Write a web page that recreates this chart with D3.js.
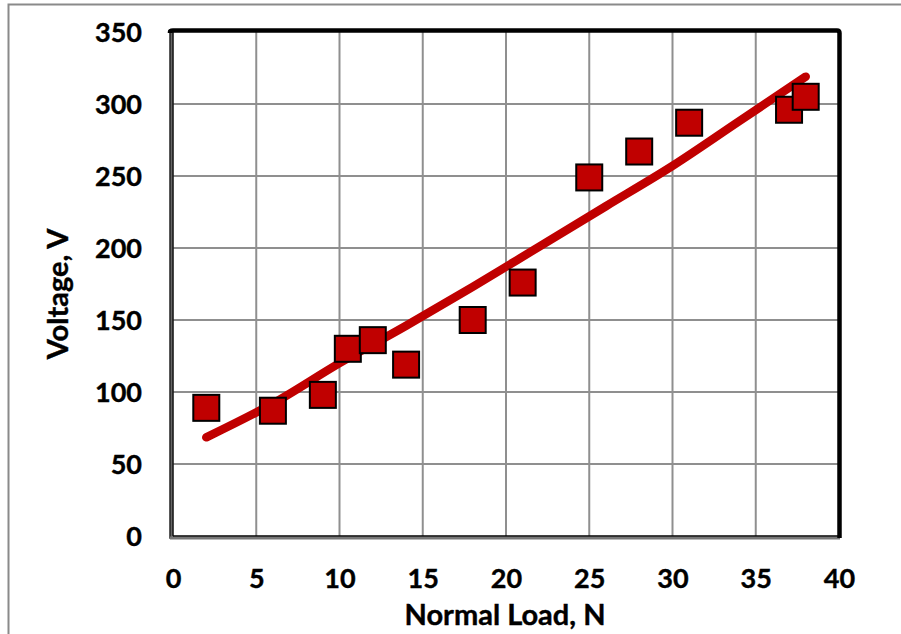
<!DOCTYPE html>
<html>
<head>
<meta charset="utf-8">
<script src="https://cdn.jsdelivr.net/npm/d3@7"></script>
<style>
  html, body { margin: 0; padding: 0; background: #fff; }
  svg { display: block; }
  text { font-family: Lato, "Open Sans", sans-serif; font-weight: 700; fill: #000; }
</style>
</head>
<body>
<svg id="chart" width="901" height="634"></svg>
<script>
// ---- data ----
const loadN    = [2, 6, 9, 10.5, 12, 14, 18, 21, 25, 28, 31, 37, 38];
const voltageV = [89, 87, 98, 130, 136, 119, 150, 176, 249, 267, 287, 296, 305];
// trend line read along its length
const trendX = [2, 6, 10, 14, 18, 22, 26, 30, 34, 38];
const trendY = [68.5, 92, 120, 146, 173, 201, 229, 257, 288, 319];
const xTicks = [0, 5, 10, 15, 20, 25, 30, 35, 40];
const yTicks = [0, 50, 100, 150, 200, 250, 300, 350];
const xTitle = "Normal Load, N";
const yTitle = "Voltage, V";

const svg = d3.select("#chart");
const pL = 173, pR = 839, pT = 32, pB = 536;
const x = d3.scaleLinear().domain([0, 40]).range([pL, pR]);
const y = d3.scaleLinear().domain([0, 350]).range([pB, pT]);

// outer chart border
svg.append("rect").attr("x", 8.5).attr("y", 4.5).attr("width", 1000).attr("height", 1000)
  .attr("fill", "#fff").attr("stroke", "#8a8a8a").attr("stroke-width", 2);

// gridlines
const grid = svg.append("g");
grid.selectAll(".vx").data(xTicks.slice(1, -1)).join("line")
  .attr("x1", d => x(d)).attr("x2", d => x(d)).attr("y1", pT).attr("y2", pB)
  .attr("stroke", "#8f8f8f").attr("stroke-width", 2);
grid.selectAll(".hy").data(yTicks.slice(1, -1)).join("line")
  .attr("y1", d => y(d)).attr("y2", d => y(d)).attr("x1", pL).attr("x2", pR)
  .attr("stroke", "#8f8f8f").attr("stroke-width", 2);

// plot border (3-D style)
svg.append("line").attr("x1", pL - 1.5).attr("x2", pL - 1.5).attr("y1", pT).attr("y2", pB + 2)
  .attr("stroke", "#666").attr("stroke-width", 4);
svg.append("line").attr("x1", pL).attr("x2", pL).attr("y1", pT).attr("y2", pB)
  .attr("stroke", "#000").attr("stroke-width", 1.2);
svg.append("line").attr("x1", pL - 3).attr("x2", pL - 3).attr("y1", pT).attr("y2", pB + 3)
  .attr("stroke", "#000").attr("stroke-width", 1);
svg.append("line").attr("x1", pL - 3).attr("x2", pR + 1).attr("y1", pB + 2).attr("y2", pB + 2)
  .attr("stroke", "#777").attr("stroke-width", 3);
svg.append("line").attr("x1", pL).attr("x2", pR).attr("y1", pB).attr("y2", pB)
  .attr("stroke", "#000").attr("stroke-width", 1.5);
svg.append("path")
  .attr("d", `M${pL - 3},${pT + 1} L${pL - 3},${pT} Q${pL - 3},${pT - 1.5} ${pL},${pT - 1.5} L${pR - 2},${pT - 1.5} Q${pR + 0.5},${pT - 1.5} ${pR + 0.5},${pT + 1} L${pR + 0.5},${pB + 2}`)
  .attr("fill", "none").attr("stroke", "#000").attr("stroke-width", 4.5);

// axes (labels only)
const xAxis = d3.axisBottom(x).tickValues(xTicks).tickSize(0).tickPadding(0);
const gx = svg.append("g").attr("transform", `translate(0,${pB})`).call(xAxis);
gx.select(".domain").remove();
gx.selectAll("text").attr("y", 52).attr("dy", null).style("font-size", "27px")
  .style("font-family", "Lato, sans-serif").style("font-weight", 700).attr("fill", "#000")
  .attr("stroke", "#000").attr("stroke-width", 0.4);

const yAxis = d3.axisLeft(y).tickValues(yTicks).tickSize(0).tickPadding(0);
const gy = svg.append("g").attr("transform", `translate(142,0)`).call(yAxis);
gy.select(".domain").remove();
gy.selectAll("text").attr("x", 0).attr("dy", "0.36em").style("font-size", "27px")
  .style("font-family", "Lato, sans-serif").style("font-weight", 700).attr("fill", "#000")
  .attr("stroke", "#000").attr("stroke-width", 0.4);

// titles
svg.append("text").attr("x", 505).attr("y", 625).attr("text-anchor", "middle")
  .style("font-size", "29px").attr("stroke", "#000").attr("stroke-width", 0.4).text(xTitle);
svg.append("text").attr("transform", "translate(68,294) rotate(-90)").attr("text-anchor", "middle")
  .style("font-size", "29px").attr("stroke", "#000").attr("stroke-width", 0.4).text(yTitle);

// trend line
const trend = trendX.map((d, i) => [d, trendY[i]]);
svg.append("path").datum(trend)
  .attr("d", d3.line().x(d => x(d[0])).y(d => y(d[1])).curve(d3.curveCatmullRom))
  .attr("fill", "none").attr("stroke", "#c00000").attr("stroke-width", 8.5).attr("stroke-linecap", "round");

// markers
const s = 26;
svg.append("g").selectAll("rect").data(loadN.map((d, i) => [d, voltageV[i]])).join("rect")
  .attr("x", d => x(d[0]) - s / 2).attr("y", d => y(d[1]) - s / 2)
  .attr("width", s).attr("height", s)
  .attr("fill", "#c00000").attr("stroke", "#000").attr("stroke-width", 2);
</script>
</body>
</html>
